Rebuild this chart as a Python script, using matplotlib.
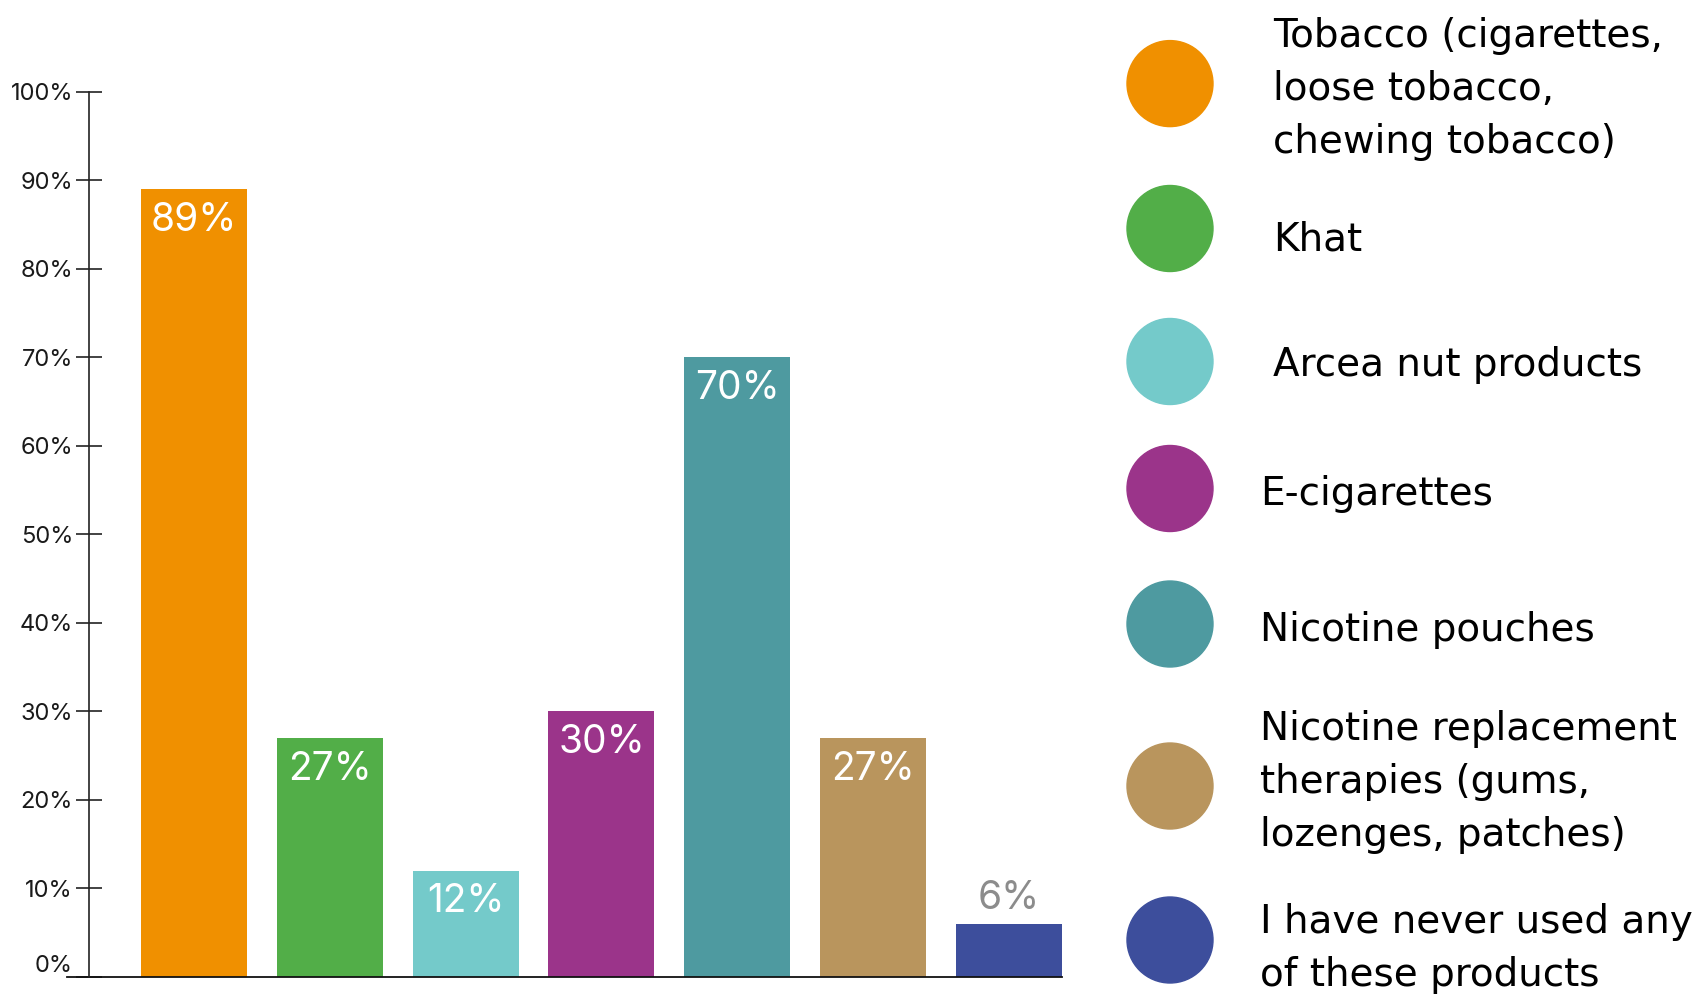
import matplotlib.pyplot as plt
from matplotlib.patches import Ellipse
from matplotlib.transforms import blended_transform_factory, offset_copy

products = ["Tobacco (cigarettes,\nloose tobacco,\nchewing tobacco)",
            "Khat",
            "Arcea nut products",
            "E-cigarettes",
            "Nicotine pouches",
            "Nicotine replacement\ntherapies (gums,\nlozenges, patches)",
            "I have never used any\nof these products"]
shares = [89, 27, 12, 30, 70, 27, 6]
colors = ["#F09000", "#52AE48", "#74CACA", "#9B348A", "#4E9AA0", "#B9955D", "#3D4E9C"]
yticks = [0, 10, 20, 30, 40, 50, 60, 70, 80, 90, 100]

W, H = 1702, 998
fig = plt.figure(figsize=(W / 100, H / 100), dpi=100)
ax = fig.add_axes([89 / W, (H - 977) / H, (1062 - 89) / W, (977 - 91.5) / H])

x = list(range(len(shares)))
ax.bar(x, shares, width=0.78, color=colors)
ax.set_xlim(-0.772, 6.39)
ax.set_ylim(0, 100)

for s in ["top", "right", "bottom"]:
    ax.spines[s].set_visible(False)
ax.spines["left"].set_linewidth(1.2)
ax.spines["left"].set_color("#222222")
ax.set_xticks([])
ax.set_yticks(yticks)
ax.set_yticklabels([f"{t}%" for t in yticks], fontfamily="Inter", fontsize=17, color="#1a1a1a")
ax.tick_params(axis="y", direction="inout", length=19, width=1.2, color="#222222", pad=2)
ax.get_yticklabels()[0].set_va("bottom")

# baseline runs a little past the y axis on the left
tr = blended_transform_factory(ax.transData, ax.transData)
ax.plot([-0.935, 6.39], [0, 0], color="#111111", lw=1.3, clip_on=False, transform=tr)

for xi, v in zip(x, shares):
    if v >= 10:
        t = offset_copy(ax.transData, fig=fig, x=0, y=-30, units="points")
        ax.text(xi, v, f"{v}%", transform=t, ha="center", va="baseline",
                color="white", fontsize=28, fontfamily="Inter")
    else:
        t = offset_copy(ax.transData, fig=fig, x=0, y=10.5, units="points")
        ax.text(xi, v, f"{v}%", transform=t, ha="center", va="baseline",
                color="#8C8C8C", fontsize=28, fontfamily="Inter")

# legend drawn in pixel space on the right
lg = fig.add_axes([0, 0, 1, 1], zorder=-1)
lg.set_xlim(0, W)
lg.set_ylim(H, 0)
lg.axis("off")

dot_y = [83.6, 228.5, 361.5, 488.5, 624, 786, 940]
text_x = [1273, 1273, 1273, 1260, 1260, 1260, 1260]
first_base = [47, 250.7, 376, 505, 641, 740, 933]
line_gap = 53

for c, cy, tx, b, lab in zip(colors, dot_y, text_x, first_base, products):
    lg.add_patch(Ellipse((1170, cy), 86, 86, color=c))
    for k, line in enumerate(lab.split("\n")):
        lg.text(tx, b + k * line_gap, line, ha="left", va="baseline",
                fontsize=28, fontfamily="DejaVu Sans", color="#000000")

fig.savefig("out.png", dpi=100)
